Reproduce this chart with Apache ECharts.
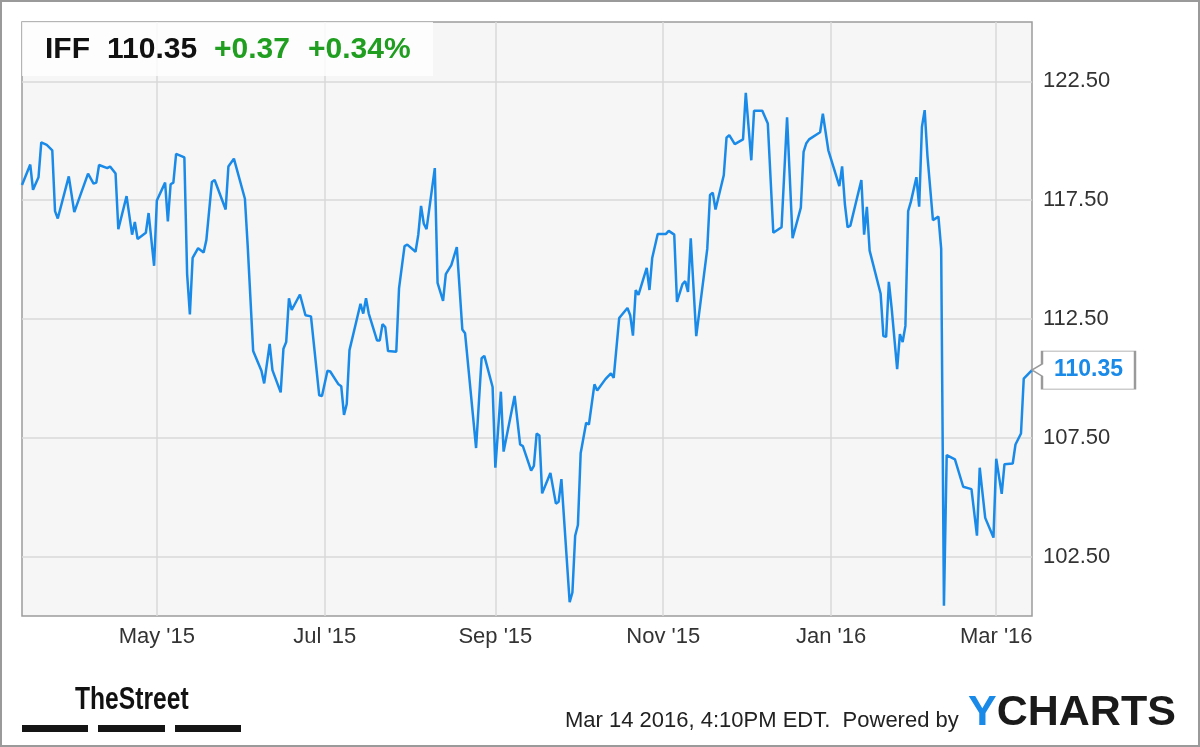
<!DOCTYPE html>
<html>
<head>
<meta charset="utf-8">
<script src="https://cdn.jsdelivr.net/npm/echarts@6/dist/echarts.min.js"></script>
<style>
  html, body { margin: 0; padding: 0; background: #fff; }
  .wrap { position: relative; width: 1200px; height: 747px; }
  #chart { position: absolute; left: 0; top: 0; width: 1200px; height: 747px; }
  .frame { position: absolute; left: 0; top: 0; width: 1200px; height: 747px;
           box-sizing: border-box; border: 2px solid #9a9a9a; pointer-events: none; }
</style>
</head>
<body>
<div class="wrap">
  <div id="chart"></div>
  <div class="frame"></div>
</div>
<script>
// IFF daily close
const dates = [
  '2015-03-13','2015-03-16','2015-03-17','2015-03-19','2015-03-20','2015-03-22','2015-03-24','2015-03-25','2015-03-26','2015-03-30',
  '2015-04-01','2015-04-06','2015-04-08','2015-04-09','2015-04-10','2015-04-13','2015-04-14','2015-04-16','2015-04-17','2015-04-20',
  '2015-04-22','2015-04-23','2015-04-24','2015-04-27','2015-04-28','2015-04-30','2015-05-01','2015-05-04','2015-05-05','2015-05-06',
  '2015-05-07','2015-05-08','2015-05-11','2015-05-12','2015-05-13','2015-05-14','2015-05-16','2015-05-18','2015-05-19','2015-05-21',
  '2015-05-22','2015-05-26','2015-05-27','2015-05-29','2015-06-02','2015-06-03','2015-06-05','2015-06-08','2015-06-09','2015-06-11',
  '2015-06-12','2015-06-15','2015-06-16','2015-06-17','2015-06-18','2015-06-19','2015-06-22','2015-06-24','2015-06-26','2015-06-29',
  '2015-06-30','2015-07-02','2015-07-03','2015-07-06','2015-07-07','2015-07-08','2015-07-09','2015-07-10','2015-07-14','2015-07-15',
  '2015-07-16','2015-07-17','2015-07-20','2015-07-21','2015-07-22','2015-07-23','2015-07-24','2015-07-27','2015-07-28','2015-07-30',
  '2015-07-31','2015-08-03','2015-08-04','2015-08-05','2015-08-06','2015-08-07','2015-08-10','2015-08-11','2015-08-13','2015-08-14',
  '2015-08-16','2015-08-18','2015-08-20','2015-08-21','2015-08-25','2015-08-27','2015-08-28','2015-08-31','2015-09-01','2015-09-03',
  '2015-09-04','2015-09-08','2015-09-10','2015-09-11','2015-09-14','2015-09-15','2015-09-16','2015-09-17','2015-09-18','2015-09-21',
  '2015-09-23','2015-09-24','2015-09-25','2015-09-28','2015-09-29','2015-09-30','2015-10-01','2015-10-02','2015-10-04','2015-10-05',
  '2015-10-07','2015-10-08','2015-10-11','2015-10-13','2015-10-14','2015-10-16','2015-10-19','2015-10-20','2015-10-21','2015-10-22',
  '2015-10-23','2015-10-26','2015-10-27','2015-10-28','2015-10-30','2015-11-02','2015-11-03','2015-11-05','2015-11-06','2015-11-08',
  '2015-11-09','2015-11-10','2015-11-11','2015-11-13','2015-11-17','2015-11-18','2015-11-19','2015-11-20','2015-11-23','2015-11-24',
  '2015-11-25','2015-11-27','2015-11-30','2015-12-01','2015-12-03','2015-12-04','2015-12-07','2015-12-09','2015-12-11','2015-12-14',
  '2015-12-16','2015-12-18','2015-12-21','2015-12-22','2015-12-23','2015-12-24','2015-12-28','2015-12-29','2015-12-31','2016-01-04',
  '2016-01-05','2016-01-06','2016-01-07','2016-01-08','2016-01-12','2016-01-13','2016-01-14','2016-01-15','2016-01-19','2016-01-20',
  '2016-01-21','2016-01-22','2016-01-23','2016-01-25','2016-01-26','2016-01-27','2016-01-28','2016-01-29','2016-01-30','2016-02-01',
  '2016-02-02','2016-02-03','2016-02-04','2016-02-05','2016-02-07','2016-02-09','2016-02-10','2016-02-11','2016-02-12','2016-02-15',
  '2016-02-18','2016-02-21','2016-02-23','2016-02-24','2016-02-26','2016-02-29','2016-03-01','2016-03-03','2016-03-04','2016-03-07',
  '2016-03-08','2016-03-10','2016-03-11','2016-03-14'
]
const prices = [
  118.14, 119.0, 117.94, 118.47, 119.93, 119.83, 119.6, 117.04, 116.73, 118.5,
  117.0, 118.62, 118.2, 118.24, 118.98, 118.85, 118.92, 118.62, 116.28, 117.67,
  116.05, 116.58, 115.87, 116.13, 116.96, 114.74, 117.49, 118.24, 116.61, 118.17,
  118.24, 119.45, 119.3, 114.39, 112.69, 115.07, 115.48, 115.3, 115.83, 118.27,
  118.35, 117.11, 118.92, 119.25, 117.56, 115.6, 111.15, 110.32, 109.79, 111.45,
  110.35, 109.41, 111.25, 111.53, 113.37, 112.88, 113.53, 112.66, 112.61, 109.29,
  109.26, 110.32, 110.29, 109.75, 109.67, 108.46, 108.92, 111.19, 113.14, 112.73,
  113.37, 112.73, 111.6, 111.6, 112.28, 112.16, 111.15, 111.12, 113.79, 115.57,
  115.63, 115.33, 116.05, 117.26, 116.51, 116.28, 118.85, 114.02, 113.26, 114.39,
  114.77, 115.53, 112.06, 111.9, 107.07, 110.85, 110.95, 109.64, 106.24, 109.44,
  106.92, 109.26, 107.22, 107.15, 106.12, 106.32, 107.68, 107.6, 105.16, 106.02,
  104.73, 104.81, 105.76, 100.58, 100.99, 103.38, 103.83, 106.85, 108.13, 108.06,
  109.75, 109.49, 109.97, 110.21, 110.02, 112.54, 112.96, 112.66, 111.8, 113.72,
  113.52, 114.65, 113.72, 115.07, 116.08, 116.08, 116.21, 116.05, 113.22, 113.97,
  114.09, 113.64, 115.9, 111.78, 115.45, 117.72, 117.82, 117.11, 118.55, 120.13,
  120.24, 119.86, 120.06, 122.02, 119.18, 121.26, 121.26, 120.73, 116.13, 116.36,
  120.99, 115.9, 117.19, 119.53, 119.9, 120.06, 120.36, 121.14, 119.6, 118.09,
  118.92, 117.34, 116.36, 116.43, 118.35, 116.05, 117.22, 115.38, 113.56, 111.78,
  111.75, 114.06, 112.96, 110.39, 111.86, 111.53, 112.21, 117.04, 117.44, 118.47,
  117.23, 120.58, 121.29, 119.38, 116.66, 116.81, 115.45, 100.43, 106.77, 106.59,
  105.44, 105.34, 103.38, 106.24, 104.13, 103.3, 106.62, 105.14, 106.39, 106.42,
  107.22, 107.68, 109.99, 110.35
]

const yTicks = [102.5, 107.5, 112.5, 117.5, 122.5]
const xTicks = ['2015-05-01', '2015-07-01', '2015-09-01', '2015-11-01', '2016-01-01', '2016-03-01']
const xTickLabels = ["May '15", "Jul '15", "Sep '15", "Nov '15", "Jan '16", "Mar '16"]

const FONT = '"Liberation Sans", Arial, Helvetica, sans-serif'
const BLUE = '#1a8ae8'
const GREEN = '#1f9e1f'

const toTime = d => echarts.time.parse(d).getTime()

const chart = echarts.init(document.getElementById('chart'))
const xTickTimes = xTicks.map(toTime)
const times = dates.map(toTime)
const lastTime = times[times.length - 1]
const lastPrice = prices[prices.length - 1]

const option = {
  animation: false,
  backgroundColor: '#fff',
  grid: {
    left: 22, right: 168, top: 22, bottom: 131,
    containLabel: false,
    show: true,
    backgroundColor: '#f6f6f6',
    borderColor: '#9c9c9c',
    borderWidth: 1.5
  },
  xAxis: {
    type: 'value',
    min: times[0],
    max: lastTime,
    axisLine: { show: false },
    axisTick: { show: false, customValues: xTickTimes },
    splitLine: { show: true, lineStyle: { color: '#d9d9d9', width: 1.5 } },
    axisLabel: {
      customValues: xTickTimes,
      margin: 10,
      color: '#333',
      fontFamily: FONT,
      fontSize: 22,
      formatter: function (val) {
        const i = xTickTimes.indexOf(val)
        return i >= 0 ? xTickLabels[i] : ''
      }
    }
  },
  yAxis: {
    type: 'value',
    position: 'right',
    min: 100,
    max: 125,
    axisLine: { show: false },
    axisTick: { show: false, customValues: yTicks },
    splitLine: { show: true, lineStyle: { color: '#d9d9d9', width: 1.5 } },
    axisLabel: {
      customValues: yTicks,
      margin: 11,
      color: '#333',
      fontFamily: FONT,
      fontSize: 22,
      formatter: v => v.toFixed(2)
    }
  },
  series: [{
    type: 'line',
    data: times.map((t, i) => [t, prices[i]]),
    showSymbol: false,
    clip: false,
    lineStyle: { color: BLUE, width: 2.5 },
    itemStyle: { color: BLUE },
    markPoint: {
      silent: true,
      symbol: 'path://M0,19 L10,13 L10,0 L103,0 L103,38 L10,38 L10,25 Z',
      symbolSize: [103, 38],
      symbolOffset: [51.5, 0],
      itemStyle: { color: '#fff', borderColor: '#9a9a9a', borderWidth: 1.5 },
      label: {
        show: true,
        position: 'inside',
        offset: [5, 0],
        color: BLUE,
        fontFamily: FONT,
        fontWeight: 'bold',
        fontSize: 23,
        formatter: p => Number(p.value).toFixed(2)
      },
      data: [{ coord: [lastTime, lastPrice], value: lastPrice }]
    }
  }],
  graphic: [
    // quote header
    { type: 'rect', z: 10, shape: { x: 22, y: 22, width: 411, height: 54 },
      style: { fill: 'rgba(255,255,255,0.8)' } },
    { type: 'text', z: 11, x: 45, y: 49.5,
      style: { text: 'IFF', font: 'bold 30px ' + FONT, fill: '#111', verticalAlign: 'middle', textVerticalAlign: 'middle' } },
    { type: 'text', z: 11, x: 107, y: 49.5,
      style: { text: '110.35', font: 'bold 30px ' + FONT, fill: '#111', verticalAlign: 'middle', textVerticalAlign: 'middle' } },
    { type: 'text', z: 11, x: 214, y: 49.5,
      style: { text: '+0.37', font: 'bold 30px ' + FONT, fill: GREEN, verticalAlign: 'middle', textVerticalAlign: 'middle' } },
    { type: 'text', z: 11, x: 308, y: 49.5,
      style: { text: '+0.34%', font: 'bold 30px ' + FONT, fill: GREEN, verticalAlign: 'middle', textVerticalAlign: 'middle' } },

    // TheStreet logo
    { type: 'text', x: 75, y: 700, scaleX: 0.77,
      style: { text: 'TheStreet', font: 'bold 32px ' + FONT, fill: '#111', verticalAlign: 'middle', textVerticalAlign: 'middle' } },
    { type: 'rect', shape: { x: 22, y: 725, width: 66, height: 7 }, style: { fill: '#151515' } },
    { type: 'rect', shape: { x: 98, y: 725, width: 67, height: 7 }, style: { fill: '#151515' } },
    { type: 'rect', shape: { x: 175, y: 725, width: 66, height: 7 }, style: { fill: '#151515' } },

    // footer
    { type: 'text', x: 565, y: 720.5,
      style: { text: 'Mar 14 2016, 4:10PM EDT.  Powered by', font: '22px ' + FONT, fill: '#222', verticalAlign: 'middle', textVerticalAlign: 'middle' } },
    { type: 'text', x: 968, y: 713,
      style: {
        text: '{y|Y}{c|CHARTS}',
        verticalAlign: 'middle', textVerticalAlign: 'middle',
        rich: {
          y: { font: 'bold 43px ' + FONT, fill: BLUE, color: BLUE },
          c: { font: 'bold 43px ' + FONT, fill: '#1a1a1a', color: '#1a1a1a' }
        }
      } }
  ]
}

chart.setOption(option)
</script>
</body>
</html>
